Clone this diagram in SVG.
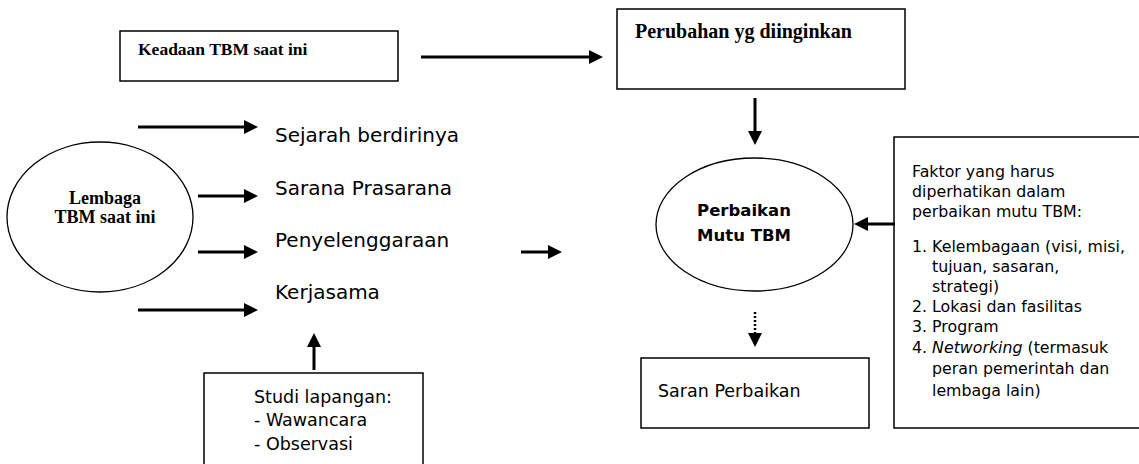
<svg xmlns="http://www.w3.org/2000/svg" width="1139" height="464" viewBox="0 0 1139 464">
<defs>
<marker id="ah" viewBox="0 0 14 14" markerWidth="14" markerHeight="14" refX="8" refY="7" orient="auto" markerUnits="userSpaceOnUse">
<path d="M0,0 L14,7 L0,14 z" fill="#000"/>
</marker>
<style>
.box{fill:#fff;stroke:#000;stroke-width:1.5}
.ell{fill:#fff;stroke:#000;stroke-width:1.3}
.ser{font-family:"Liberation Serif",serif;font-weight:bold;fill:#000}
.san{font-family:"DejaVu Sans",sans-serif;fill:#000}
.con{stroke:#000;stroke-width:3;fill:none;marker-end:url(#ah)}
.dot{stroke-dasharray:2 2;stroke-width:2.5}
</style>
</defs>
<rect width="1139" height="464" fill="#fff"/>
<g id="keadaan">
<rect class="box" x="120" y="31" width="278" height="50"/>
<text class="ser" x="138" y="55" font-size="17.5">Keadaan TBM saat ini</text>
</g>
<g id="perubahan">
<rect class="box" x="617" y="9" width="288" height="80"/>
<text class="ser" x="635" y="38" font-size="20">Perubahan yg diinginkan</text>
</g>
<g id="lembaga">
<ellipse class="ell" cx="100" cy="217" rx="93" ry="75"/>
<text class="ser" x="105" y="204" font-size="18" text-anchor="middle">Lembaga</text>
<text class="ser" x="105" y="223" font-size="18" text-anchor="middle">TBM saat ini</text>
</g>
<g id="aspek" class="san" font-size="20">
<text x="275" y="142">Sejarah berdirinya</text>
<text x="275" y="195">Sarana Prasarana</text>
<text x="275" y="247">Penyelenggaraan</text>
<text x="275" y="299">Kerjasama</text>
</g>
<g id="studi">
<rect class="box" x="204" y="373" width="219" height="100"/>
<g class="san" font-size="17.5">
<text x="254" y="403">Studi lapangan:</text>
<text x="254" y="426">- Wawancara</text>
<text x="254" y="450">- Observasi</text>
</g>
</g>
<g id="perbaikan">
<ellipse class="ell" cx="754.5" cy="224.5" rx="98.5" ry="66.5"/>
<text class="san" x="744" y="216" font-size="16.5" font-weight="bold" text-anchor="middle">Perbaikan</text>
<text class="san" x="744" y="241" font-size="16.5" font-weight="bold" text-anchor="middle">Mutu TBM</text>
</g>
<g id="saran">
<rect class="box" x="641" y="358" width="228" height="70"/>
<text class="san" x="658" y="397" font-size="17.5">Saran Perbaikan</text>
</g>
<g id="faktor">
<rect class="box" x="894" y="137" width="260" height="291"/>
<g class="san" font-size="15.8">
<text x="912" y="177">Faktor yang harus</text>
<text x="912" y="197">diperhatikan dalam</text>
<text x="912" y="217">perbaikan mutu TBM:</text>
<text x="912" y="252">1. Kelembagaan (visi, misi,</text>
<text x="932" y="272">tujuan, sasaran,</text>
<text x="932" y="292">strategi)</text>
<text x="912" y="312">2. Lokasi dan fasilitas</text>
<text x="912" y="332">3. Program</text>
<text x="912" y="353">4. <tspan font-style="italic">Networking</tspan> (termasuk</text>
<text x="932" y="374">peran pemerintah dan</text>
<text x="932" y="396">lembaga lain)</text>
</g>
</g>
<g id="connectors">
<line class="con" x1="421" y1="57" x2="597" y2="57"/>
<line class="con" x1="138" y1="127" x2="252" y2="127"/>
<line class="con" x1="198" y1="196" x2="252" y2="196"/>
<line class="con" x1="198" y1="252" x2="252" y2="252"/>
<line class="con" x1="138" y1="310" x2="252" y2="310"/>
<line class="con" x1="314" y1="370" x2="314" y2="339"/>
<line class="con" x1="521" y1="252" x2="556" y2="252"/>
<line class="con" x1="755" y1="98" x2="755" y2="139"/>
<line class="con" x1="895" y1="224" x2="860" y2="224"/>
<line class="con dot" x1="755" y1="312" x2="755" y2="341"/>
</g>
</svg>
